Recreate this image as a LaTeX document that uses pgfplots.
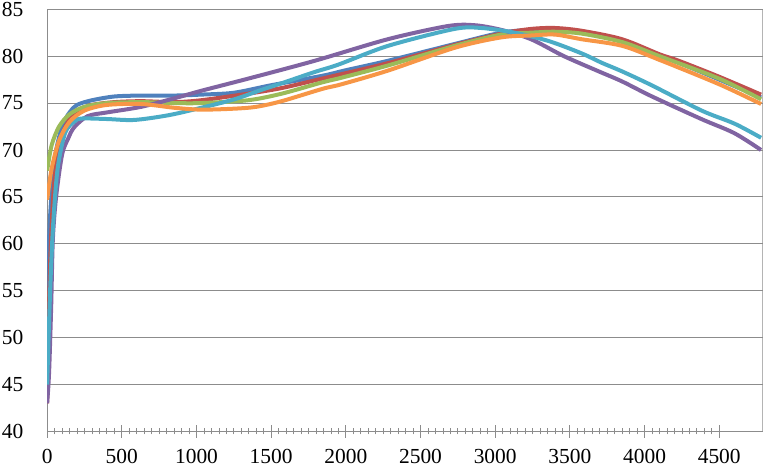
\documentclass[border=0pt]{standalone}
\usepackage{fontspec}
\setmainfont{Liberation Serif}
\usepackage{pgfplots}
\pgfplotsset{compat=1.18}

\definecolor{sblue}{HTML}{4F81BD}
\definecolor{sred}{HTML}{C0504D}
\definecolor{sgreen}{HTML}{9BBB59}
\definecolor{spurple}{HTML}{8064A2}
\definecolor{saqua}{HTML}{4BACC6}
\definecolor{sorange}{HTML}{F79646}
\definecolor{gridgray}{HTML}{8C8C8C}

\begin{document}
\begin{tikzpicture}
\begin{axis}[
  width=715bp, height=422bp, scale only axis,
  xmin=0, xmax=4790, ymin=40, ymax=85,
  xtick={0,500,...,4500}, minor x tick num=9,
  ytick={40,45,...,85},
  ymajorgrids, grid style={gridgray, line width=0.9pt},
  axis line style={gridgray, line width=0.9pt},
  axis x line*=bottom, axis y line*=left,
  x tick style={gridgray, line width=0.8pt},
  y tick style={draw=none},
  tick align=center,
  major tick length=13bp, minor tick length=6bp,
  /pgf/number format/assume math mode=true,
  /pgf/number format/1000 sep={},
  tick label style={font=\fontsize{21.5}{24}\selectfont},
  xticklabel style={inner sep=3bp, yshift=-8bp},
  yticklabel style={inner sep=2bp, xshift=-15bp},
  every axis plot/.append style={line width=4bp, smooth, tension=0.5, no marks, line join=round},
  clip=true,
]
% right border of the plot area
\draw[gridgray, line width=0.9pt] (axis cs:4790,40) -- (axis cs:4790,85);

\addplot[sblue] coordinates {
(0,55) (20,63) (50,69) (100,72.5) (150,74.0) (200,74.8) (300,75.3) (450,75.7)
(630,75.8) (850,75.8) (1030,75.9) (1250,76.1) (1500,76.9) (1840,77.9) (2000,78.5)
(2280,79.5) (2730,81.3) (3040,82.5) (3250,82.8) (3450,82.8) (3600,82.5) (3850,81.7)
(4100,80.1) (4230,79.3) (4500,77.5) (4780,75.6)};

\addplot[sred] coordinates {
(0,43) (20,58) (50,67) (100,71.5) (150,73.3) (200,74.2) (300,74.8) (450,75.1)
(630,75.2) (850,75.1) (1030,75.3) (1345,76.0) (1570,76.6) (1840,77.6) (2280,79.25)
(2730,81.2) (3040,82.4) (3240,82.9) (3400,83.0) (3580,82.7) (3850,81.8) (4100,80.2)
(4230,79.5) (4500,77.8) (4780,75.9)};

\addplot[sgreen] coordinates {
(0,67.8) (30,70.5) (80,72.5) (150,73.8) (250,74.6) (400,75.0) (630,75.1) (850,75.0)
(1030,75.0) (1345,75.3) (1570,76.0) (1840,77.2) (1970,77.7) (2280,79.0) (2730,81.1)
(3040,82.3) (3240,82.5) (3400,82.6) (3580,82.4) (3850,81.5) (4100,80.0) (4500,77.6)
(4780,75.4)};

\addplot[spurple] coordinates {
(0,43) (13,46.3) (27,53.3) (38,60.4) (60,65) (100,69.5) (140,71.2) (180,72.4)
(270,73.6) (400,74.0) (630,74.6) (850,75.5) (1030,76.3) (1345,77.6) (1790,79.5)
(2280,81.8) (2680,83.2) (2860,83.3) (3040,82.8) (3240,81.8) (3460,80.0) (3690,78.4)
(3850,77.3) (4050,75.7) (4380,73.3) (4600,71.8) (4780,70.0)};

\addplot[saqua] coordinates {
(0,45) (20,55) (40,62) (70,68) (120,71.8) (180,73.0) (228,73.35) (400,73.3)
(583,73.2) (811,73.7) (1032,74.5) (1253,75.4) (1434,76.4) (1568,77.1) (1789,78.3)
(1950,79.1) (2283,81.1) (2727,82.9) (2908,83.0) (3130,82.5) (3360,81.6) (3578,80.3)
(3712,79.3) (3846,78.4) (4047,76.9) (4382,74.2) (4603,72.8) (4780,71.3)};

\addplot[sorange] coordinates {
(0,64.7) (30,68) (80,71.0) (150,73.0) (250,74.2) (400,74.8) (630,74.9) (850,74.5)
(1030,74.3) (1250,74.4) (1400,74.6) (1570,75.2) (1840,76.5) (1970,77.0) (2280,78.45)
(2730,80.9) (3040,82.0) (3240,82.2) (3400,82.3) (3580,81.8) (3850,81.1) (4100,79.6)
(4500,77.0) (4780,74.9)};
\end{axis}
\end{tikzpicture}
\end{document}
